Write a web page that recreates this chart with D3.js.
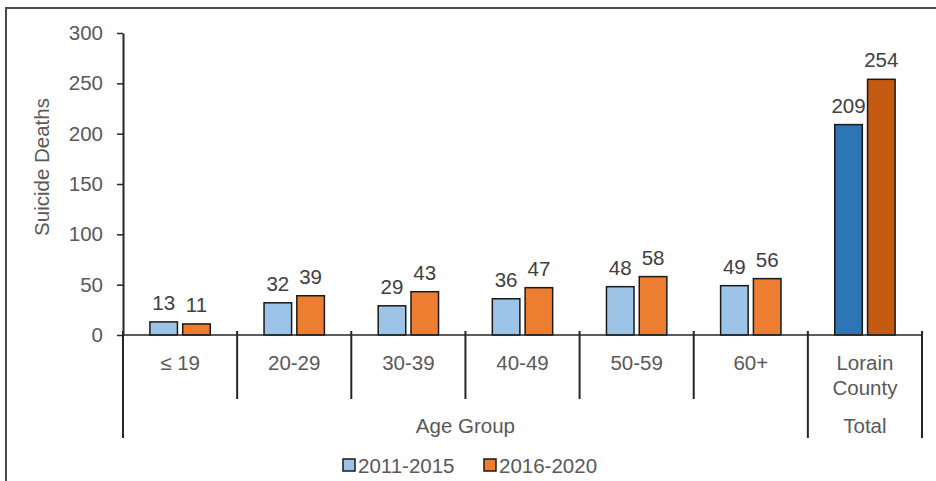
<!DOCTYPE html>
<html>
<head>
<meta charset="utf-8">
<script src="https://cdn.jsdelivr.net/npm/d3@7"></script>
<style>
  body { margin: 0; background: #fff; }
  svg { display: block; font-family: "Liberation Sans", Arial, sans-serif; }
</style>
</head>
<body>
<div id="chart"></div>
<script>
const categories = ["≤ 19", "20-29", "30-39", "40-49", "50-59", "60+", "Lorain County"];
const seriesNames = ["2011-2015", "2016-2020"];
const deaths2011 = [13, 32, 29, 36, 48, 49, 209];
const deaths2016 = [11, 39, 43, 47, 58, 56, 254];
const yTicks = [0, 50, 100, 150, 200, 250, 300];

const width = 936, height = 481;
const textColor = "#595959";
const lineColor = "#262626";
const fontSize = "20.5px";
// lighter colours for age groups, darker for county total
const lightColors = ["#9dc3e6", "#ed7d31"];
const darkColors = ["#2e75b6", "#c55a11"];

const svg = d3.select("#chart").append("svg")
    .attr("width", width)
    .attr("height", height);

// frame of the original figure
svg.append("path")
    .attr("d", "M6,481V8H936")
    .attr("fill", "none")
    .attr("stroke", "#4a4a4a")
    .attr("stroke-width", 2);

const x = d3.scaleBand()
    .domain(categories)
    .range([123, 922])
    .padding(0);

const xInner = d3.scaleBand()
    .domain(seriesNames)
    .range([0, x.bandwidth()])
    .paddingInner(0.16)
    .paddingOuter(0.82);

const y = d3.scaleLinear()
    .domain([0, 300])
    .range([335, 33]);

// y axis
const yAxis = svg.append("g")
    .attr("transform", "translate(123,0)")
    .call(d3.axisLeft(y).tickValues(yTicks).tickSize(6).tickSizeOuter(0).tickPadding(14));
yAxis.select(".domain").attr("stroke", lineColor).attr("stroke-width", 2);
yAxis.selectAll(".tick line").attr("stroke", lineColor).attr("stroke-width", 1.5);
yAxis.selectAll(".tick text")
    .attr("fill", textColor)
    .style("font-size", fontSize);

svg.append("text")
    .attr("transform", "translate(49,167) rotate(-90)")
    .attr("text-anchor", "middle")
    .attr("fill", textColor)
    .style("font-size", fontSize)
    .text("Suicide Deaths");

// bars
const rows = categories.map((c, i) => ({cat: c, vals: [deaths2011[i], deaths2016[i]], total: i === categories.length - 1}));

const groups = svg.append("g").selectAll("g")
    .data(rows)
    .enter()
    .append("g")
    .attr("transform", d => "translate(" + x(d.cat) + ",0)");

groups.selectAll("rect")
    .data(d => d.vals.map((v, j) => ({v: v, s: seriesNames[j], color: d.total ? darkColors[j] : lightColors[j]})))
    .enter()
    .append("rect")
    .attr("x", d => xInner(d.s))
    .attr("y", d => y(d.v))
    .attr("width", xInner.bandwidth())
    .attr("height", d => y(0) - y(d.v))
    .attr("fill", d => d.color)
    .attr("stroke", "#1a1a1a")
    .attr("stroke-width", 1.5);

groups.selectAll("text")
    .data(d => d.vals.map((v, j) => ({v: v, s: seriesNames[j]})))
    .enter()
    .append("text")
    .attr("x", d => xInner(d.s) + xInner.bandwidth() / 2)
    .attr("y", d => y(d.v) - 12)
    .attr("text-anchor", "middle")
    .attr("fill", "#404040")
    .style("font-size", fontSize)
    .text(d => d.v);

// x axis line and category dividers
svg.append("line")
    .attr("x1", 123).attr("x2", 922)
    .attr("y1", y(0)).attr("y2", y(0))
    .attr("stroke", lineColor)
    .attr("stroke-width", 1.5);

const bounds = categories.map(c => x(c)).concat([x.range()[1]]);
svg.append("g").selectAll("line")
    .data(bounds)
    .enter()
    .append("line")
    .attr("x1", d => d).attr("x2", d => d)
    .attr("y1", y(0) - 4)
    .attr("y2", (d, i) => (i === 0 || i >= categories.length - 1) ? 438 : 399)
    .attr("stroke", lineColor)
    .attr("stroke-width", 2);

// category labels
const catLabels = svg.append("g").selectAll("text")
    .data(categories)
    .enter()
    .append("text")
    .attr("x", d => x(d) + x.bandwidth() / 2)
    .attr("y", 370)
    .attr("text-anchor", "middle")
    .attr("fill", textColor)
    .style("font-size", fontSize);
catLabels.each(function(d) {
    const words = d === "Lorain County" ? ["Lorain", "County"] : [d];
    d3.select(this).selectAll("tspan")
        .data(words)
        .enter()
        .append("tspan")
        .attr("x", x(d) + x.bandwidth() / 2)
        .attr("dy", (w, k) => k === 0 ? 0 : 25)
        .text(w => w);
});

svg.append("text")
    .attr("x", (x(categories[0]) + x(categories[categories.length - 1])) / 2)
    .attr("y", 433)
    .attr("text-anchor", "middle")
    .attr("fill", textColor)
    .style("font-size", fontSize)
    .text("Age Group");

svg.append("text")
    .attr("x", x(categories[categories.length - 1]) + x.bandwidth() / 2)
    .attr("y", 433)
    .attr("text-anchor", "middle")
    .attr("fill", textColor)
    .style("font-size", fontSize)
    .text("Total");

// legend
const legendX = [343, 484];
const legend = svg.append("g").selectAll("g")
    .data(seriesNames)
    .enter()
    .append("g")
    .attr("transform", (d, i) => "translate(" + legendX[i] + ",459)");
legend.append("rect")
    .attr("width", 12).attr("height", 12)
    .attr("fill", (d, i) => lightColors[i])
    .attr("stroke", "#1a1a1a")
    .attr("stroke-width", 1.5);
legend.append("text")
    .attr("x", 15)
    .attr("y", 14)
    .attr("fill", textColor)
    .style("font-size", fontSize)
    .text(d => d);
</script>
</body>
</html>
